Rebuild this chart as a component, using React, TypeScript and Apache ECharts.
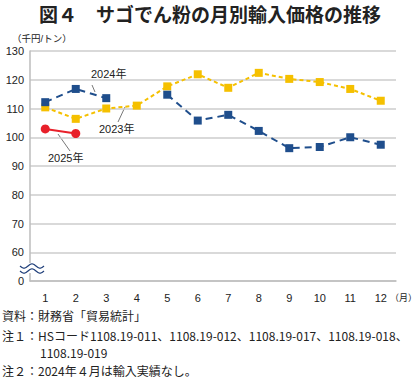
import React, { useEffect, useRef } from "react";
import * as echarts from "echarts";

const months = ["1", "2", "3", "4", "5", "6", "7", "8", "9", "10", "11", "12"];
const yTicks = [50, 60, 70, 80, 90, 100, 110, 120, 130];
const s2023 = [110.4, 106.4, 110.0, 111.0, 117.7, 121.9, 117.2, 122.4, 120.3, 119.2, 116.8, 112.7];
const s2024 = [112.2, 116.8, 113.6, null, 114.8, 105.8, 107.8, 102.2, 96.2, 96.6, 100.0, 97.4];
const s2025 = [102.9, 101.3, null, null, null, null, null, null, null, null, null, null];

const FONT = "'Liberation Sans', 'Noto Sans CJK JP', sans-serif";
const JP = "'Noto Sans CJK JP', sans-serif";

export default function App() {
  const ref = useRef<HTMLDivElement>(null);
  useEffect(() => {
    if (!ref.current) return;
    const chart = echarts.init(ref.current, null, { renderer: "svg" });
    const txt = (x: number, y: number, text: string, size = 11, extra: any = {}) => ({
      type: "text",
      x,
      y,
      style: { text, fontSize: size, fontFamily: FONT, fill: "#222", textVerticalAlign: "middle", ...extra },
    });
    const wave = (y0: number) => {
      const pts: number[][] = [];
      for (let i = 0; i <= 24; i++) {
        const x = 20 + i;
        pts.push([x, y0 + 2.2 * Math.sin((i / 24) * Math.PI * 3)]);
      }
      return { type: "polyline", shape: { points: pts, smooth: 0.3 }, style: { stroke: "#1f3f7a", lineWidth: 1.2, fill: null }, z: 20 };
    };
    chart.setOption({
      animation: false,
      grid: { left: 30, right: 24, top: 51, bottom: 103 },
      xAxis: {
        type: "category",
        data: months,
        boundaryGap: true,
        axisLine: { lineStyle: { color: "#bdbdbd", width: 1.5 } },
        axisTick: { show: false },
        axisLabel: { color: "#222", fontSize: 11, fontFamily: FONT, margin: 11 },
      },
      yAxis: {
        type: "value",
        min: yTicks[0],
        max: yTicks[yTicks.length - 1],
        interval: 10,
        axisLine: { show: true, lineStyle: { color: "#bdbdbd", width: 1.5 } },
        axisTick: { show: false },
        splitLine: { lineStyle: { color: "#cccccc", width: 1.5 } },
        axisLabel: {
          color: "#222",
          fontSize: 11,
          fontFamily: FONT,
          margin: 6,
          formatter: (v: number) => (v === 50 ? "0" : String(v)),
        },
      },
      series: [
        {
          name: "2023年",
          type: "line",
          data: s2023,
          symbol: "rect",
          symbolSize: 8,
          itemStyle: { color: "#f5c000" },
          lineStyle: { color: "#f5c000", width: 2, type: [4, 3] },
          z: 3,
        },
        {
          name: "2024年",
          type: "line",
          data: s2024,
          connectNulls: false,
          symbol: "rect",
          symbolSize: 8,
          itemStyle: { color: "#1f4e8c" },
          lineStyle: { color: "#1f4e8c", width: 2, type: [7, 5] },
          z: 4,
        },
        {
          name: "2025年",
          type: "line",
          data: s2025,
          symbol: "circle",
          symbolSize: 9,
          itemStyle: { color: "#e8202a" },
          lineStyle: { color: "#e8202a", width: 2 },
          z: 5,
        },
      ],
      graphic: [
        {
          type: "text",
          left: "center",
          top: 4,
          style: { text: "図４　サゴでん粉の月別輸入価格の推移", fontSize: 19, fontWeight: "bold", fontFamily: JP, fill: "#222" },
        },
        txt(12, 38, "（千円/トン）", 9.5),
        txt(390, 297, "（月）", 9, { fontFamily: JP }),
        // series labels
        txt(91, 74, "2024年", 11),
        { type: "line", shape: { x1: 92, y1: 85, x2: 95, y2: 92 }, style: { stroke: "#555", lineWidth: 0.8 } },
        txt(99, 129, "2023年", 11),
        { type: "line", shape: { x1: 125, y1: 107, x2: 118, y2: 122 }, style: { stroke: "#555", lineWidth: 0.8 } },
        txt(48, 158, "2025年", 11),
        { type: "line", shape: { x1: 58, y1: 134, x2: 70, y2: 151 }, style: { stroke: "#555", lineWidth: 0.8 } },
        // axis break
        { type: "rect", shape: { x: 27, y: 263, width: 6, height: 10 }, style: { fill: "#fff" }, z: 19 },
        wave(266),
        wave(271),
        // footer
        txt(2, 315, "資料：財務省「貿易統計」", 12, { fontFamily: JP }),
        txt(2, 335, "注１：HSコード1108.19-011、1108.19-012、1108.19-017、1108.19-018、", 12, { fontFamily: JP }),
        txt(40, 352, "1108.19-019", 12, { fontFamily: JP }),
        txt(2, 370, "注２：2024年４月は輸入実績なし。", 12, { fontFamily: JP }),
      ],
    });
    return () => chart.dispose();
  }, []);
  return <div ref={ref} style={{ position: "fixed", left: 0, top: 0, width: 420, height: 384, background: "#fff" }} />;
}
